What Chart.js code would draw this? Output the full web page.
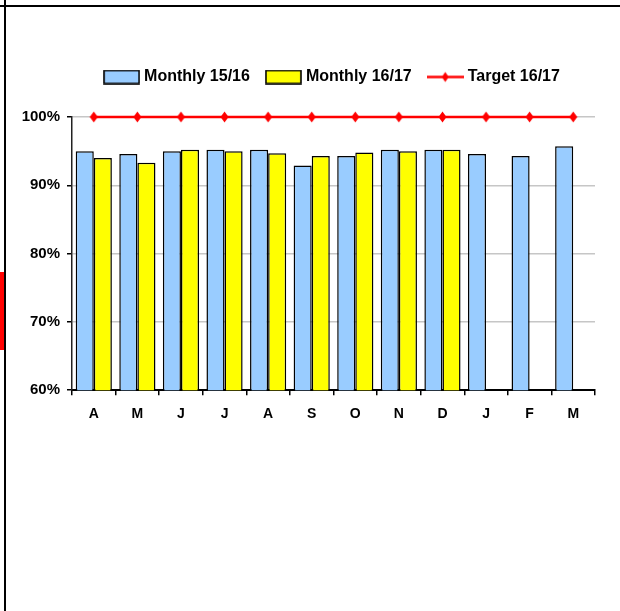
<!DOCTYPE html>
<html>
<head>
<meta charset="utf-8">
<title>Monthly performance against target</title>
<script src="https://cdn.jsdelivr.net/npm/chart.js@4.4.1/dist/chart.umd.min.js"></script>
<style>
  html, body { margin: 0; padding: 0; background: #fff; }
  body { width: 620px; height: 611px; position: relative; overflow: hidden; }
  .rule-h { position: absolute; left: 0; top: 5px; width: 620px; height: 2px; background: #000; }
  .rule-v { position: absolute; left: 4px; top: 0; width: 2px; height: 611px; background: #000; }
  .flag { position: absolute; left: 0; top: 272px; width: 4px; height: 78px; background: #f00; }
  #box { position: absolute; left: 0; top: 0; width: 620px; height: 611px; }
</style>
</head>
<body>
<div class="rule-h"></div>
<div class="rule-v"></div>
<div class="flag"></div>
<div id="box"><canvas id="chart" width="620" height="611"></canvas></div>
<script>
// Month initials, April to March
const months = ['A', 'M', 'J', 'J', 'A', 'S', 'O', 'N', 'D', 'J', 'F', 'M'];

// Monthly percentages per year (no 16/17 figures yet for Jan-Mar)
const monthly1516 = [95.0, 94.6, 95.0, 95.2, 95.2, 92.9, 94.3, 95.2, 95.2, 94.6, 94.3, 95.7];
const monthly1617 = [94.0, 93.3, 95.2, 95.0, 94.7, 94.3, 94.8, 95.0, 95.2, null, null, null];

// Target line for 16/17
const target1617 = [100, 100, 100, 100, 100, 100, 100, 100, 100, 100, 100, 100];

// Value axis range
const axisMin = 60;
const axisMax = 100;
const axisStep = 10;

const BLUE = '#99CCFF';
const YELLOW = '#FFFF00';
const RED = '#FF0000';

function makeCanvas(w, h, paint) {
  const c = document.createElement('canvas');
  c.width = w; c.height = h;
  paint(c.getContext('2d'), w, h);
  return c;
}

function paintDiamond(ctx, cx, cy, hw, hh) {
  ctx.beginPath();
  ctx.moveTo(cx, cy - hh);
  ctx.lineTo(cx + hw, cy);
  ctx.lineTo(cx, cy + hh);
  ctx.lineTo(cx - hw, cy);
  ctx.closePath();
  ctx.fillStyle = RED;
  ctx.fill();
}

// Diamond marker for the target line
const diamondMarker = makeCanvas(9, 12, (ctx, w, h) => paintDiamond(ctx, w / 2, h / 2, 4, 5.5));

// Legend swatches
const swatch = fill => makeCanvas(37, 15, (ctx) => {
  ctx.fillStyle = fill;
  ctx.fillRect(1, 1, 35, 13);
  ctx.strokeStyle = '#000';
  ctx.lineWidth = 1.6;
  ctx.strokeRect(1, 1, 35, 13);
});
const lineSwatch = makeCanvas(37, 15, (ctx, w, h) => {
  ctx.strokeStyle = RED;
  ctx.lineWidth = 2.5;
  ctx.beginPath();
  ctx.moveTo(0, h / 2);
  ctx.lineTo(w, h / 2);
  ctx.stroke();
  paintDiamond(ctx, w / 2, h / 2, 3.5, 5);
});
const legendIcons = [swatch(BLUE), swatch(YELLOW), lineSwatch];

// Extra space between legend and plot
const legendGap = {
  id: 'legendGap',
  beforeInit(chart) {
    const lg = chart.legend;
    if (!lg) return;
    const fit = lg.fit;
    lg.fit = function () {
      fit.call(this);
      this.height += 22;
    };
  }
};

new Chart(document.getElementById('chart'), {
  type: 'bar',
  data: {
    labels: months,
    datasets: [
      {
        label: 'Monthly 15/16',
        data: monthly1516,
        backgroundColor: BLUE,
        borderColor: '#000',
        borderWidth: 1.5,
        categoryPercentage: 0.83,
        barPercentage: 1.0
      },
      {
        label: 'Monthly 16/17',
        data: monthly1617,
        backgroundColor: YELLOW,
        borderColor: '#000',
        borderWidth: 1.5,
        categoryPercentage: 0.83,
        barPercentage: 1.0
      },
      {
        type: 'line',
        label: 'Target 16/17',
        data: target1617,
        borderColor: RED,
        backgroundColor: RED,
        borderWidth: 2.5,
        pointStyle: diamondMarker,
        pointRadius: 5,
        pointHoverRadius: 5,
        clip: false,
        order: -1
      }
    ]
  },
  options: {
    responsive: false,
    animation: false,
    events: [],
    layout: { padding: { left: 10, right: 25, top: 50, bottom: 177 } },
    plugins: {
      tooltip: { enabled: false },
      legend: {
        position: 'top',
        fullSize: false,
        labels: {
          usePointStyle: true,
          pointStyleWidth: 29,
          padding: 19,
          color: '#000',
          font: { family: '"Liberation Sans", Arial, sans-serif', size: 16, weight: 'bold' },
          generateLabels: chart => chart.data.datasets.map((ds, i) => ({
            text: ds.label,
            pointStyle: legendIcons[i],
            datasetIndex: i,
            hidden: false,
            lineWidth: 0,
            fillStyle: 'rgba(0,0,0,0)',
            strokeStyle: 'rgba(0,0,0,0)',
            fontColor: '#000'
          }))
        }
      }
    },
    scales: {
      x: {
        grid: {
          display: true,
          offset: true,
          drawOnChartArea: false,
          drawTicks: true,
          tickLength: 5,
          color: '#000',
          lineWidth: 1.5
        },
        border: { display: true, color: '#000', width: 2 },
        ticks: {
          color: '#000',
          padding: 11,
          font: { family: '"Liberation Sans", Arial, sans-serif', size: 14, weight: 'bold' }
        }
      },
      y: {
        min: axisMin,
        max: axisMax,
        afterFit(axis) { axis.width = 62; },
        grid: {
          color: '#c6c6c6',
          lineWidth: 1.5,
          tickColor: '#000',
          tickLength: 5,
          tickWidth: 1.5
        },
        border: { display: true, color: '#222', width: 1.5 },
        ticks: {
          stepSize: axisStep,
          padding: 7,
          color: '#000',
          font: { family: '"Liberation Sans", Arial, sans-serif', size: 15, weight: 'bold' },
          callback: v => v + '%'
        }
      }
    }
  },
  plugins: [legendGap]
});
</script>
</body>
</html>
